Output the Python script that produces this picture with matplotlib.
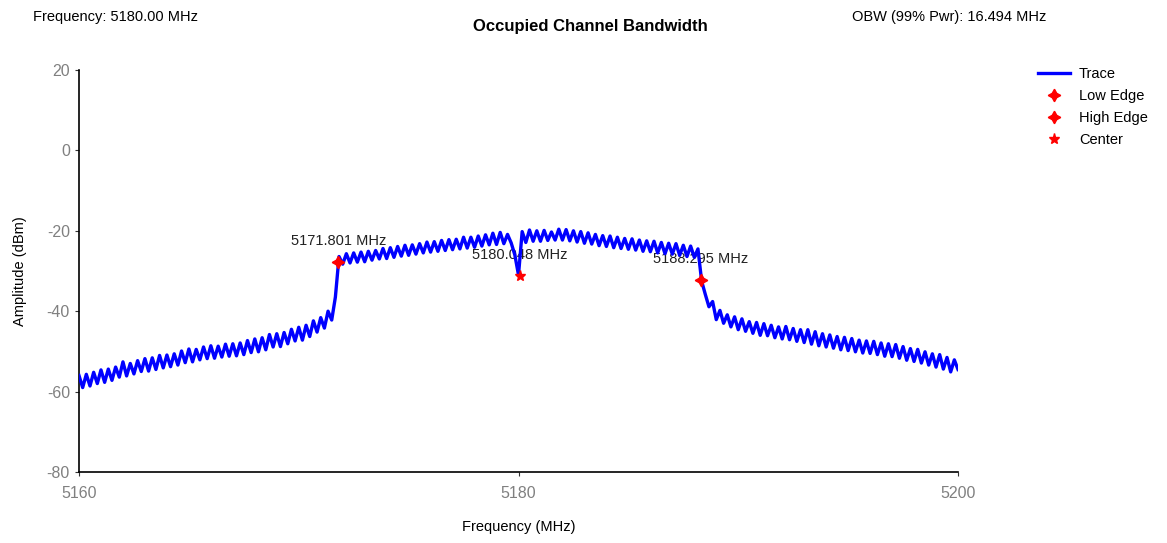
import numpy as np
import matplotlib.pyplot as plt

plt.rcParams['font.family'] = ['Liberation Sans', 'DejaVu Sans']
plt.rcParams['axes.unicode_minus'] = False

# sweep: 5160..5200 MHz, 241 points (1/6 MHz spacing)
f_start, f_stop = 5160, 5200
trace_dbm = [
    -56.0, -59.0, -55.7, -58.6, -55.2, -58.0,   # 5160
    -54.6, -57.7, -54.4, -57.2, -53.9, -56.4,   # 5161
    -52.6, -56.1, -53.0, -55.6, -52.3, -55.0,   # 5162
    -51.8, -54.9, -51.6, -54.5, -51.0, -54.1,   # 5163
    -50.9, -53.8, -50.6, -53.4, -49.9, -52.8,   # 5164
    -49.4, -52.6, -49.5, -52.1, -48.9, -51.8,   # 5165
    -48.6, -51.7, -48.7, -51.4, -48.2, -51.2,   # 5166
    -48.1, -51.1, -47.9, -50.8, -47.3, -50.3,   # 5167
    -46.9, -50.1, -46.6, -49.6, -45.8, -48.9,   # 5168
    -45.6, -48.8, -45.3, -48.1, -44.5, -47.4,   # 5169
    -44.0, -47.2, -43.5, -46.3, -42.4, -45.2,   # 5170
    -41.6, -44.2, -40.0, -42.2, -36.5, -26.4,   # 5171
    -28.3, -25.7, -28.0, -25.5, -27.8, -25.3,   # 5172
    -27.7, -25.1, -27.3, -24.9, -27.0, -24.4,   # 5173
    -26.9, -24.2, -26.6, -23.9, -26.3, -23.6,   # 5174
    -26.1, -23.5, -25.8, -23.2, -25.5, -22.8,   # 5175
    -25.3, -22.7, -25.1, -22.4, -24.9, -22.2,   # 5176
    -24.7, -22.1, -24.5, -21.6, -24.3, -21.6,   # 5177
    -24.1, -21.3, -23.8, -21.0, -23.5, -20.6,   # 5178
    -23.4, -20.4, -23.2, -20.9, -23.0, -26.0,   # 5179
    -31.0, -20.2, -22.9, -19.8, -22.6, -20.0,   # 5180
    -22.6, -19.9, -22.4, -20.3, -22.3, -19.6,   # 5181
    -22.3, -19.7, -22.5, -20.0, -22.8, -20.2,   # 5182
    -23.1, -20.5, -23.3, -20.9, -23.7, -21.2,   # 5183
    -23.9, -21.3, -24.2, -21.6, -24.4, -21.9,   # 5184
    -24.6, -22.0, -24.8, -22.3, -25.1, -22.5,   # 5185
    -25.2, -22.6, -25.5, -22.9, -25.7, -23.1,   # 5186
    -25.8, -23.2, -26.1, -23.6, -26.4, -23.8,   # 5187
    -26.6, -24.5, -32.5, -35.8, -38.9, -37.6,   # 5188
    -42.1, -39.8, -43.0, -40.9, -43.9, -41.4,   # 5189
    -44.6, -41.9, -45.0, -42.6, -45.5, -42.8,   # 5190
    -46.0, -43.1, -46.1, -43.5, -46.6, -43.9,   # 5191
    -46.9, -43.8, -47.1, -44.3, -47.5, -44.6,   # 5192
    -47.8, -44.6, -48.2, -45.1, -48.6, -45.6,   # 5193
    -48.9, -45.9, -49.2, -46.3, -49.6, -46.5,   # 5194
    -49.8, -46.8, -50.1, -47.2, -50.4, -47.4,   # 5195
    -50.5, -47.5, -50.8, -47.9, -51.2, -48.1,   # 5196
    -51.3, -48.3, -51.7, -48.8, -52.2, -49.3,   # 5197
    -52.5, -49.5, -52.9, -50.1, -53.4, -50.6,   # 5198
    -53.9, -50.8, -54.4, -51.5, -55.1, -52.1,   # 5199
    -54.5,                                      # 5200
]
freq_mhz = np.linspace(f_start, f_stop, len(trace_dbm))

marker_names = ["Low Edge", "High Edge", "Center"]
marker_freq = [5171.801, 5188.295, 5180.048]
marker_amp = [-27.8, -32.3, -31.2]
marker_labels = ["5171.801 MHz", "5188.295 MHz", "5180.048 MHz"]

yticks = [20, 0, -20, -40, -60, -80]
xticks = [5160, 5180, 5200]

fig = plt.figure(figsize=(11.67, 5.43), dpi=100)
ax = fig.add_axes([79 / 1167, 1 - 472 / 543, (958 - 79) / 1167, (472 - 70) / 543])

ax.plot(freq_mhz, trace_dbm, color="#0000ff", lw=2.4, label="Trace", zorder=3)
star4 = (4, 1, 0)
ax.plot(marker_freq[0], marker_amp[0], ls="none", marker=star4, ms=9, color="red",
        label=marker_names[0], zorder=4)
ax.plot(marker_freq[1], marker_amp[1], ls="none", marker=star4, ms=9, color="red",
        label=marker_names[1], zorder=4)
ax.plot(marker_freq[2], marker_amp[2], ls="none", marker="*", ms=8, color="red",
        label=marker_names[2], zorder=4)

for fx, fy, txt in zip(marker_freq, marker_amp, marker_labels):
    ax.annotate(txt, (fx, fy), xytext=(0, 21), textcoords="offset pixels",
                ha="center", va="center", fontsize=10.5, color="#222222", zorder=2)

ax.set_xlim(f_start, f_stop)
ax.set_ylim(-80, 20)
ax.set_xticks(xticks)
ax.set_yticks(yticks)
ax.tick_params(colors="#333333", labelcolor="#808080", labelsize=11.5, length=3)
ax.tick_params(axis="x", pad=7)
for s in ["top", "right"]:
    ax.spines[s].set_visible(False)
ax.spines["left"].set_linewidth(1.2)
ax.spines["bottom"].set_linewidth(1.2)

ax.set_ylabel("Amplitude (dBm)", fontsize=10.5)
ax.yaxis.set_label_coords(-52 / 879, 0.5)
ax.set_xlabel("Frequency (MHz)", fontsize=10.5)
ax.xaxis.set_label_coords(0.5, -48 / 402)

fig.text(33 / 1167, 1 - 17 / 543, "Frequency: 5180.00 MHz", fontsize=10.5, va="center")
fig.text(852 / 1167, 1 - 17 / 543, "OBW (99% Pwr): 16.494 MHz", fontsize=10.5, va="center")
fig.text(590 / 1167, 1 - 27 / 543, "Occupied Channel Bandwidth", fontsize=12,
         fontweight="bold", ha="center", va="center")

fig.legend(loc="upper left", bbox_to_anchor=(1025 / 1167, 1 - 54 / 543), frameon=False,
           fontsize=10.5, handlelength=2.2, labelspacing=0.55, handletextpad=0.6)

fig.savefig("out.png", dpi=100)
